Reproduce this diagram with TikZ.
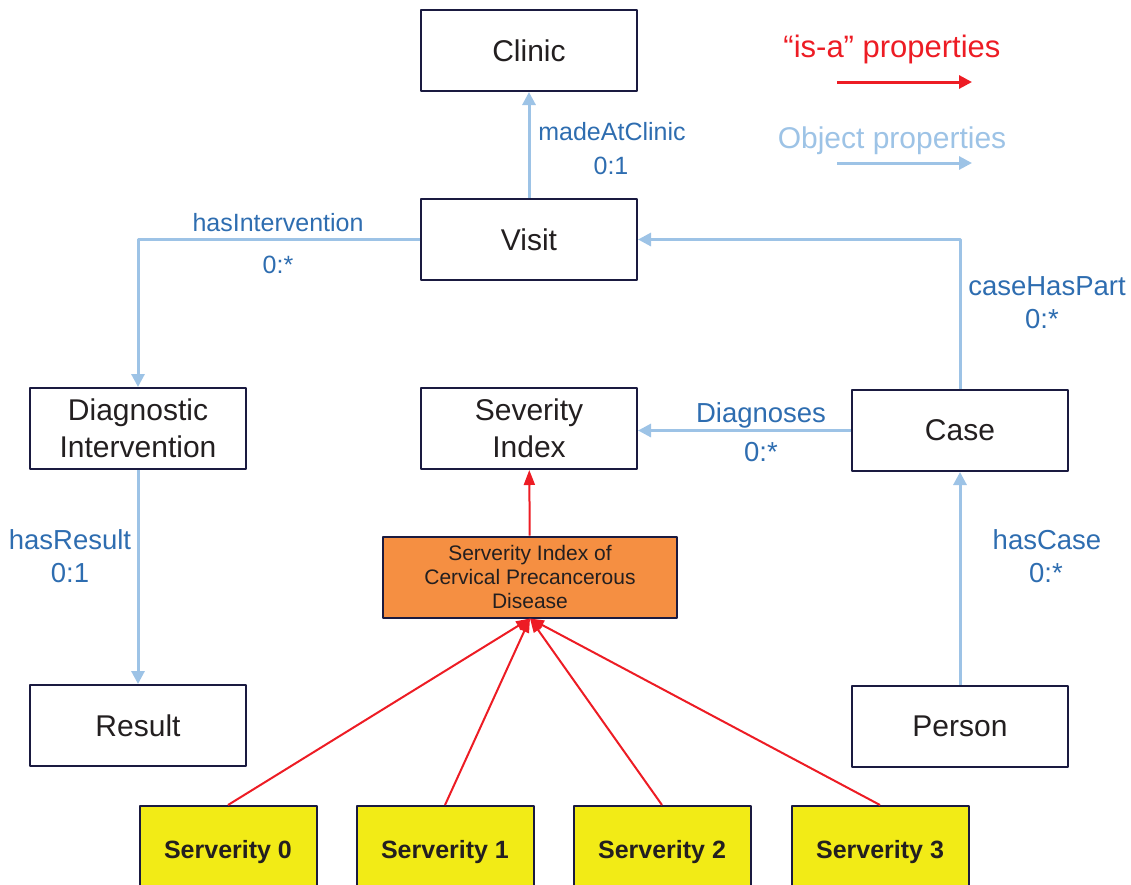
\documentclass[tikz,border=0pt]{standalone}
\usepackage{fontspec}
\setmainfont{Liberation Sans}
\usetikzlibrary{arrows.meta}
\definecolor{boxline}{RGB}{26,26,64}
\definecolor{boxtext}{RGB}{35,31,32}
\definecolor{objblue}{RGB}{157,195,230}
\definecolor{lblblue}{RGB}{46,109,176}
\definecolor{isared}{RGB}{237,28,36}
\definecolor{cpdorange}{RGB}{245,143,66}
\definecolor{sevyellow}{RGB}{242,235,22}
\begin{document}
\begin{tikzpicture}[x=1pt,y=-1pt,line join=round,
	box/.style={draw=boxline,line width=2pt,fill=white,minimum width=216pt,minimum height=81pt,inner sep=0pt,align=center,text=boxtext,font=\fontsize{30}{37}\selectfont},
	cpdbox/.style={box,fill=cpdorange,minimum width=294pt,font=\fontsize{21}{24}\selectfont},
	sevbox/.style={box,fill=sevyellow,minimum width=177pt,minimum height=92pt,font=\fontsize{25}{30}\selectfont\bfseries},
	lbl/.style={anchor=base,inner sep=0pt,text=lblblue,font=\fontsize{25}{30}\selectfont},
	biglbl/.style={lbl,font=\fontsize{27.5}{32}\selectfont},
	objarrow/.style={draw=objblue,line width=3pt,-{Triangle[width=13pt,length=13pt]}},
	isa/.style={draw=isared,line width=2pt,-{Triangle[width=11pt,length=15pt]}}]
	\useasboundingbox (0,0) rectangle (1131,884);
	\clip (0,0) rectangle (1131,884);
	\node[box] (clinic) at (529,50.5) {Clinic};
	\node[box] (visit) at (529,239.5) {Visit};
	\node[box] (diag) at (138,428.5) {Diagnostic\\Intervention};
	\node[box] (sev) at (529,428.5) {Severity\\Index};
	\node[box] (case) at (960,430.5) {Case};
	\node[box] (result) at (138,725.5) {Result};
	\node[box] (person) at (960,726) {Person};
	\node[cpdbox] (sevcpd) at (530,577) {Serverity Index of\\Cervical Precancerous\\Disease};
	\foreach \i/\x in {0/228,1/445,2/662,3/880}
		\node[sevbox] (s\i) at (\x,852) {Serverity \i};
	\draw[objarrow] (visit) -- (clinic);
	\draw[objarrow] (visit.west) -| (diag.north);
	\draw[objarrow] (diag) -- (result);
	\draw[objarrow] (case.north) |- (visit.east);
	\draw[objarrow] (case.west) -- (case.west -| sev.east);
	\draw[objarrow] (person) -- (case);
	\draw[isa] (sevcpd) -- (sev);
	\foreach \i in {0,...,3}
		\draw[isa,-{Triangle[width=10pt,length=14pt]}] (s\i.north) -- (sevcpd.south);
	\node[lbl] (madeLbl) at (612,140) {madeAtClinic};
	\node[lbl] (madeCard) at (611,174) {0:1};
	\node[lbl] (intLbl) at (278,231) {hasIntervention};
	\node[lbl] (intCard) at (278,273) {0:*};
	\node[biglbl] (partLbl) at (1047,295) {caseHasPart};
	\node[biglbl] (partCard) at (1042,328) {0:*};
	\node[biglbl] (diagLbl) at (761,422) {Diagnoses};
	\node[biglbl] (diagCard) at (761,461) {0:*};
	\node[biglbl] (resLbl) at (70,549) {hasResult};
	\node[biglbl] (resCard) at (70,582) {0:1};
	\node[biglbl] (caseLbl) at (1047,549) {hasCase};
	\node[biglbl] (caseCard) at (1046,582) {0:*};
	\node[lbl,text=isared,font=\fontsize{31}{36}\selectfont] (isaLbl) at (892,57) {“is-a” properties};
	\node[lbl,text=objblue,font=\fontsize{30}{36}\selectfont] (objLbl) at (892,148) {Object properties};
	\coordinate (isaL) at (837,82);
	\coordinate (isaR) at (972,82);
	\coordinate (objL) at (837,163);
	\coordinate (objR) at (972,163);
	\draw[isa,line width=3pt,-{Triangle[width=13pt,length=13pt]}] (isaL) -- (isaR);
	\draw[objarrow] (objL) -- (objR);
\end{tikzpicture}
\end{document}
